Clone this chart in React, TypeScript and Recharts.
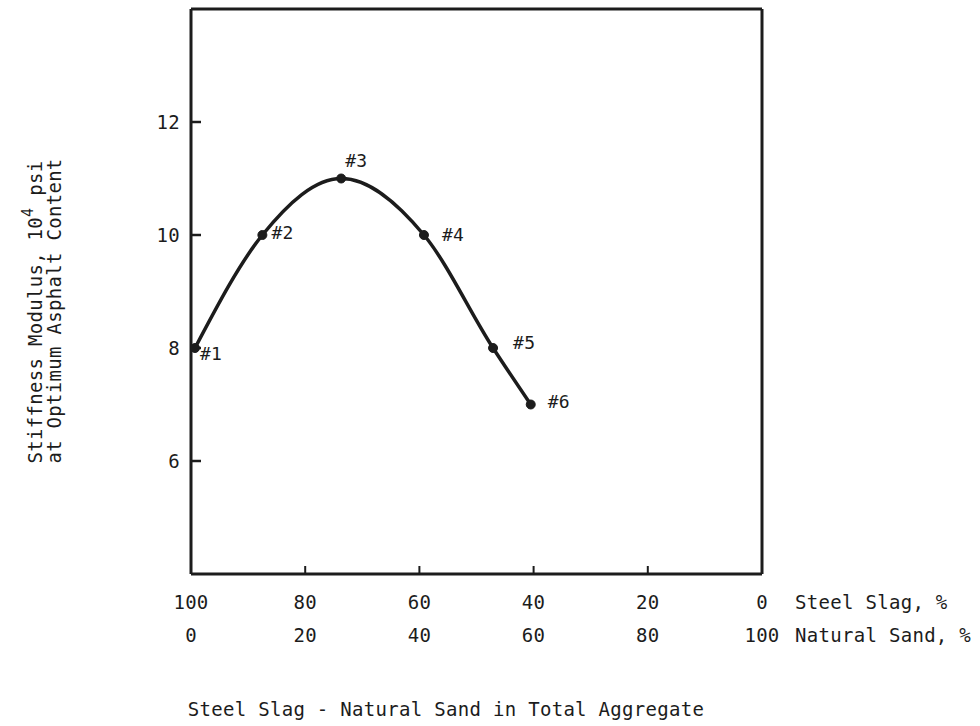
import React from 'react';
import {
  LabelList,
  Line,
  LineChart,
  ReferenceLine,
  XAxis,
  YAxis,
} from 'recharts';

// values
const slagPct = [99.3, 87.5, 73.7, 59.2, 47.1, 40.5];
const stiffness = [8.0, 10.0, 11.0, 10.0, 8.0, 7.0];
const pointLabels = ['#1', '#2', '#3', '#4', '#5', '#6'];

const slagTicks = [100, 80, 60, 40, 20, 0];
const sandTicks = [0, 20, 40, 60, 80, 100];
const stiffnessTicks = [6, 8, 10, 12];

// label placement relative to each point (dx to text start, dy to baseline)
const LABEL_OFFSETS = [
  { dx: 5, dy: 12 },
  { dx: 9, dy: 4 },
  { dx: 4, dy: -12 },
  { dx: 18, dy: 6 },
  { dx: 20, dy: 1 },
  { dx: 17, dy: 3 },
];

const INK = '#1c1c1c';
const FONT = '"DejaVu Sans Mono", "Liberation Mono", monospace';
const FONT_SIZE = 19;
const SPACING = 0.3;

const data = slagPct.map((s, i) => ({
  slag: s,
  stiffness: stiffness[i],
  label: pointLabels[i],
}));

const textStyle = {
  fontFamily: FONT,
  fontSize: FONT_SIZE,
  letterSpacing: SPACING,
  fill: INK,
};

/**
 * x tick: two rows (steel slag / natural sand) and an inward tick mark
 */
const XTick = (props: any) => {
  const { x, y, payload } = props;
  const idx = slagTicks.indexOf(payload.value);
  const inner = payload.value !== 0 && payload.value !== 100;
  return (
    <g>
      {inner && (
        <line x1={x} y1={y} x2={x} y2={y - 8} stroke={INK} strokeWidth={2} />
      )}
      <text x={x} y={y + 35} textAnchor="middle" style={textStyle}>
        {slagTicks[idx]}
      </text>
      <text x={x} y={y + 68} textAnchor="middle" style={textStyle}>
        {sandTicks[idx]}
      </text>
      {payload.value === 0 && (
        <>
          <text x={x + 33} y={y + 35} style={textStyle}>
            Steel Slag, %
          </text>
          <text x={x + 33} y={y + 68} style={textStyle}>
            Natural Sand, %
          </text>
        </>
      )}
    </g>
  );
};

const YTick = (props: any) => {
  const { x, y, payload } = props;
  return (
    <g>
      <line x1={x} y1={y} x2={x + 10} y2={y} stroke={INK} strokeWidth={2.5} />
      <text x={x - 11} y={y + 7} textAnchor="end" style={textStyle}>
        {payload.value}
      </text>
    </g>
  );
};

const PointLabel = (props: any) => {
  const { x, y, value, index } = props;
  const off = LABEL_OFFSETS[index] || { dx: 8, dy: 0 };
  return (
    <text x={x + off.dx} y={y + off.dy} style={{ ...textStyle, fontSize: 18 }}>
      {value}
    </text>
  );
};

export default function App() {
  return (
    <div style={{ position: 'absolute', left: 0, top: 0, width: 980, height: 726, background: '#fff' }}>
      <LineChart
        width={980}
        height={726}
        data={data}
        margin={{ top: 9, right: 218, bottom: 52, left: 131 }}
      >
        <XAxis
          type="number"
          dataKey="slag"
          domain={[0, 100]}
          reversed
          ticks={slagTicks}
          interval={0}
          height={100}
          tickSize={0}
          tickMargin={0}
          tickLine={false}
          axisLine={{ stroke: INK, strokeWidth: 3 }}
          tick={<XTick />}
        />
        <YAxis
          type="number"
          domain={[4, 14]}
          ticks={stiffnessTicks}
          interval={0}
          width={60}
          tickSize={0}
          tickMargin={0}
          tickLine={false}
          axisLine={{ stroke: INK, strokeWidth: 3 }}
          tick={<YTick />}
        />
        <ReferenceLine y={14} stroke={INK} strokeWidth={3} />
        <ReferenceLine x={0} stroke={INK} strokeWidth={3} />
        <Line
          type="monotone"
          dataKey="stiffness"
          stroke={INK}
          strokeWidth={3.5}
          dot={{ r: 4.5, fill: INK, stroke: INK, strokeWidth: 1 }}
          isAnimationActive={false}
        >
          <LabelList dataKey="label" content={<PointLabel />} />
        </Line>
      </LineChart>

      <svg
        width={980}
        height={726}
        style={{ position: 'absolute', left: 0, top: 0, pointerEvents: 'none' }}
      >
        <g transform="translate(42, 312) rotate(-90)">
          <text textAnchor="middle" style={textStyle}>
            Stiffness Modulus, 10
            <tspan dy={-9} fontSize={15}>4</tspan>
            <tspan dy={9}> psi</tspan>
          </text>
        </g>
        <g transform="translate(61, 311) rotate(-90)">
          <text textAnchor="middle" style={textStyle}>
            at Optimum Asphalt Content
          </text>
        </g>
        <text x={446} y={716} textAnchor="middle" style={textStyle}>
          Steel Slag - Natural Sand in Total Aggregate
        </text>
      </svg>
    </div>
  );
}
